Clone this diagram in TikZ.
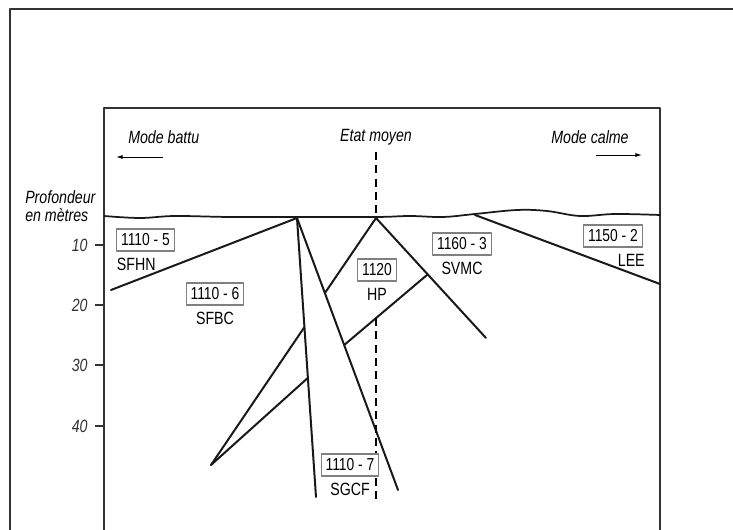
\documentclass[tikz,border=0pt]{standalone}
\usepackage{fontspec}
\setmainfont{Liberation Sans}[FakeStretch=0.8]
\usetikzlibrary{positioning, arrows.meta, calc}

\begin{document}
\begin{tikzpicture}[x=0.75pt, y=-0.75pt, node distance=1.5pt, line join=round,
        zone/.style={draw=black!50, line width=.8pt, fill=white, inner xsep=3.2pt, minimum height=16.5pt, font=\fontsize{13}{15}\selectfont},
        code/.style={font=\fontsize{13.3}{15}\selectfont},
        note/.style={font=\fontsize{13.3}{15}\selectfont\itshape},
        limit/.style={line width=1.5pt, black!90, line cap=round},
        frame/.style={line width=1.2pt, black!80},
        mode/.style={line width=.7pt, -{Latex[length=5pt, width=3pt]}}]

        \useasboundingbox (0,0) rectangle (733,530);

        %FRAMES
        \draw[frame] (10,530) -- (10,9) -- (733,9);
        \draw[frame] (104,530) -- (104,108) -- (660,108) -- (660,530);

        %HEADINGS
        \node[note, anchor=west, inner xsep=0pt] (battu) at (128,137) {Mode battu};
        \node[note] (moyen) at (376,137) {Etat moyen};
        \node[note] (calme) at (590,137) {Mode calme};
        \coordinate (b0) at (163,157);
        \coordinate (b1) at (116,157);
        \coordinate (c0) at (596,155);
        \coordinate (c1) at (642,155);
        \draw[mode] (b0) -- (b1);
        \draw[mode] (c0) -- (c1);

        % DEPTH SCALE
        \node[note, anchor=west, inner xsep=0pt] (prof) at (25,197) {Profondeur};
        \node[note, anchor=west, inner xsep=0pt] (metres) at (25,215) {en mètres};
        \foreach \d/\y in {10/245, 20/305, 30/365, 40/426} {
            \coordinate (t\d) at (104,\y);
            \draw[frame] (t\d) -- ++(-9,0) node[note, left, inner sep=1pt, xshift=-4pt] (l\d) {\d};
        }

        %SURFACE
        \draw[limit, line width=1.3pt] plot[smooth, tension=.6] coordinates {(104,216) (140,218) (175,216) (230,217) (297,217) (376,217) (410,216) (443,217) (475,214) (517,210) (547,211) (580,216) (615,214) (660,215)};

        %POINTS
        \coordinate (J1) at (297,218);
        \coordinate (A2) at (376,218);
        \coordinate (J3) at (475,215);
        \coordinate (sfhn) at (111,290);
        \coordinate (lee) at (660,284);
        \coordinate (stem) at (316,497);
        \coordinate (fan) at (398,490);
        \coordinate (svmc) at (486,338);
        \coordinate (tip) at (211,465);
        \coordinate (s1) at ($(J1)!0.391!(stem)$);
        \coordinate (s2) at ($(J1)!0.573!(stem)$);
        \coordinate (f1) at ($(J1)!0.276!(fan)$);
        \coordinate (f2) at ($(J1)!0.467!(fan)$);
        \coordinate (r1) at ($(A2)!0.47!(svmc)$);
        \coordinate (d1) at ($(f2)!0.381!(r1)$);
        \coordinate (top) at (376,152);
        \coordinate (bot) at (376,500);

        %LIMITS
        \draw[limit] (sfhn) -- (J1) -- (stem);
        \draw[limit] (J1) -- (fan);
        \draw[limit] (tip) -- (s1);
        \draw[limit] (tip) -- (s2);
        \draw[limit] (f1) -- (A2) -- (svmc);
        \draw[limit] (f2) -- (r1);
        \draw[limit] (J3) -- (lee);
        \draw[line width=1pt, dash pattern=on 6pt off 4pt] (top) -- (A2);
        \draw[line width=1pt, dash pattern=on 6pt off 4pt] (d1) -- (d1 |- bot);

        %ZONES
        \node[zone] (z5) at (145.5,240) {1110 - 5};
        \node[code, below=of z5.south west, anchor=north west, xshift=-3pt] (n5) {SFHN};
        \node[zone] (z6) at (215,294) {1110 - 6};
        \node[code, below=of z6] (n6) {SFBC};
        \node[zone] (z0) at (377,270) {1120};
        \node[code, below=of z0] (n0) {HP};
        \node[zone] (z3) at (462,244) {1160 - 3};
        \node[code, below=of z3] (n3) {SVMC};
        \node[zone] (z2) at (613,236) {1150 - 2};
        \node[code, below=of z2.south east, anchor=north east, xshift=5pt] (n2) {LEE};
        \node[zone] (z7) at (350,465) {1110 - 7};
        \node[code, below=of z7] (n7) {SGCF};

\end{tikzpicture}
\end{document}
